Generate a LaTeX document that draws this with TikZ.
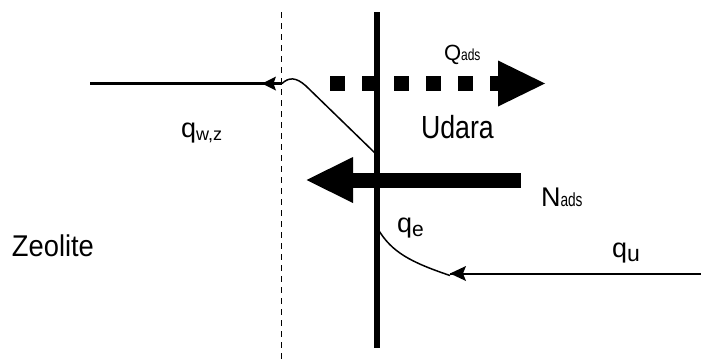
\documentclass[tikz,border=0pt]{standalone}
\usepackage{fontspec}
\usepackage{graphicx}
\setmainfont{Liberation Sans}
\newcommand{\myfs}[1]{\fontsize{#1}{#1}\selectfont}
\newcommand{\mysx}[2]{\scalebox{#1}[1]{#2}}
\tikzset{
  lbl/.style={inner sep=0pt, outer sep=0pt, anchor=base west},
  thinline/.style={line width=1.5pt},
  wall/.style={line width=5.5pt},
  interface/.style={line width=1.6pt, dash pattern=on 6pt off 5pt},
  headfill/.style={fill=black, draw=none},
}
\begin{document}
\begin{tikzpicture}[x=1pt,y=-1pt]
\useasboundingbox (0,0) rectangle (701,362);
% dashed interface
\coordinate (dtop) at (281.5,12);
\coordinate (dbot) at (281.5,362);
\draw[interface] (dtop) -- (dbot);
% thick wall
\coordinate (wtop) at (377,12);
\coordinate (wbot) at (377,348);
\draw[wall] (wtop) -- (wbot);
% left profile line with arrow
\coordinate (lstart) at (90,83.5);
\coordinate (lend) at (282,83.5);
\coordinate (ltip) at (262,83.5);
\draw[line width=3.8pt] (lstart) -- (lend);
\fill[headfill] (ltip) -- ++(14,-7) -- ++(-2.5,7) -- ++(2.5,7) -- cycle;
\coordinate (cwall) at (376,154);
\draw[thinline] (lend) .. controls (289,77) and (296,77) .. (306,86) -- (cwall);
% Q_ads dotted arrow
\coordinate (qs) at (330,83.5);
\coordinate (qe) at (498,83.5);
\draw[line width=15pt, dash pattern=on 15pt off 17pt] (qs) -- (qe);
\fill[headfill] (498,60.5) -- (545,83.5) -- (498,106.5) -- cycle;
% N_ads arrow
\fill[headfill] (340,172.5) rectangle (521,187.5);
\fill[headfill] (353,157) -- (306.5,180) -- (353,203) -- cycle;
% bottom right profile
\coordinate (rstart) at (701,273.5);
\coordinate (rtip) at (450,273.5);
\draw[line width=2pt] (rstart) -- (rtip);
\fill[headfill] (rtip) -- ++(16,-7.5) -- ++(-3,7.5) -- ++(3,7.5) -- cycle;
\coordinate (cwall2) at (378.5,230);
\draw[thinline] (cwall2) .. controls (392,252) and (410,262) .. (450,275.5);
% labels
\node[lbl] (Qads) at (444,60) {\myfs{22}Q\raisebox{-0.5pt}{\mysx{0.75}{\myfs{16}ads}}};
\node[lbl] (Udara) at (421,138.5) {\mysx{0.835}{\myfs{32}Udara}};
\node[lbl] (qwz) at (181,137.5) {\myfs{27}q\raisebox{-2.5pt}{\myfs{18}w,z}};
\node[lbl] (Nads) at (541,206) {\myfs{27}N\raisebox{-0.5pt}{\mysx{0.72}{\myfs{19}ads}}};
\node[lbl] (Zeolite) at (12,256.7) {\mysx{0.91}{\myfs{30}Zeolite}};
\node[lbl] (qe) at (397,232.5) {\myfs{27}q\raisebox{-3.5pt}{\myfs{21}e}};
\node[lbl] (qu) at (612,257.5) {\myfs{27}q\raisebox{-4pt}{\myfs{23}u}};
\end{tikzpicture}
\end{document}
